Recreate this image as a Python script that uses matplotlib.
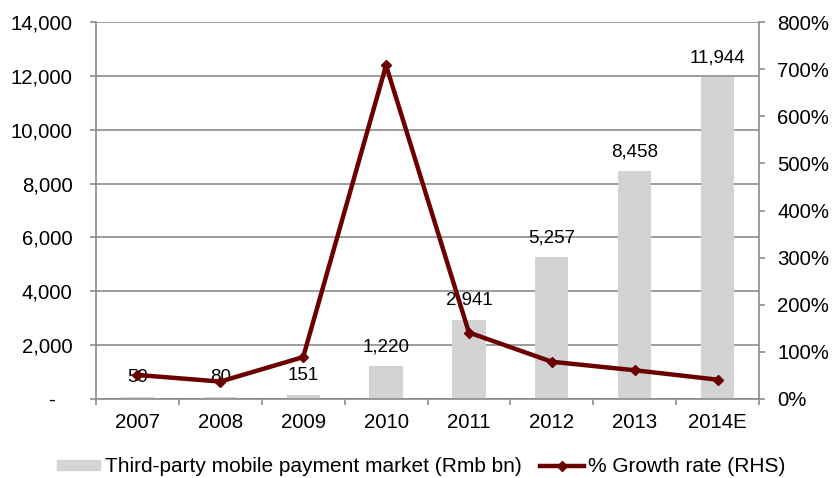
import matplotlib
matplotlib.use("Agg")
import matplotlib.pyplot as plt
from matplotlib.ticker import FuncFormatter, FixedLocator
from matplotlib.patches import Rectangle
from matplotlib.lines import Line2D

years = ["2007", "2008", "2009", "2010", "2011", "2012", "2013", "2014E"]
market = [59, 80, 151, 1220, 2941, 5257, 8458, 11944]
growth = [51, 37, 89, 708, 141, 79, 61, 41]

plt.rcParams['font.family'] = ['Liberation Sans', 'DejaVu Sans']
fs = 14.7
grid_c = '#8c8c8c'
bar_c = '#d3d3d3'
line_c = '#6b0000'

fig = plt.figure(figsize=(8.32, 4.78), dpi=100)
ax = fig.add_axes([96/832, 1-399/478, (759-96)/832, (399-22)/478])
x = list(range(len(years)))
ax.bar(x, market, width=0.4, color=bar_c, zorder=2)
ax.set_xlim(-0.5, len(years)-0.5)
ax.set_ylim(0, 14000)
ax.set_yticks(range(0, 14001, 2000))
ax.yaxis.set_major_formatter(FuncFormatter(lambda v, p: '-\u00a0\u00a0\u00a0' if v == 0 else f'{int(v):,}'))
ax.grid(axis='y', color=grid_c, linewidth=1.2, zorder=0)
ax.set_axisbelow(True)
for s in ['top', 'right']:
    ax.spines[s].set_visible(False)
for s in ['left', 'bottom']:
    ax.spines[s].set_color(grid_c)
    ax.spines[s].set_linewidth(1.2)
ax.set_xticks(x)
ax.set_xticklabels(years, fontsize=fs)
ax.tick_params(axis='x', length=0, pad=10)
ax.xaxis.set_minor_locator(FixedLocator([i-0.5 for i in range(len(years)+1)]))
ax.tick_params(axis='x', which='minor', length=4.5, color=grid_c, width=1.2, direction='out')
ax.tick_params(axis='y', labelsize=fs, length=4.5, color=grid_c, width=1.2, pad=12.5)

for xi, v in zip(x, market):
    ax.annotate(f'{v:,}', (xi, v), xytext=(0, 8), textcoords='offset points',
                ha='center', va='bottom', fontsize=13.5, zorder=5)

ax2 = ax.twinx()
ax2.plot(x, growth, color=line_c, linewidth=3.2, marker='D', markersize=5, zorder=3)
ax2.set_ylim(0, 800)
ax2.set_yticks(range(0, 801, 100))
ax2.yaxis.set_major_formatter(FuncFormatter(lambda v, p: f'{int(v)}%'))
ax2.tick_params(axis='y', labelsize=fs, length=4.5, color=grid_c, width=1.2, pad=8.5)
for s in ['top', 'left', 'bottom']:
    ax2.spines[s].set_visible(False)
ax2.spines['right'].set_color(grid_c)
ax2.spines['right'].set_linewidth(1.2)

handles = [Rectangle((0, 0), 1, 1, color=bar_c),
           Line2D([], [], color=line_c, linewidth=3.2, marker='D', markersize=5)]
fig.legend(handles, ['Third-party mobile payment market (Rmb bn)', '% Growth rate (RHS)'],
           loc='center', bbox_to_anchor=(421/832, 1-467/478), ncol=2, frameon=False,
           fontsize=15, handlelength=2.1, handleheight=0.4, columnspacing=0.9, handletextpad=0.2)

fig.savefig('out.png', dpi=100)
